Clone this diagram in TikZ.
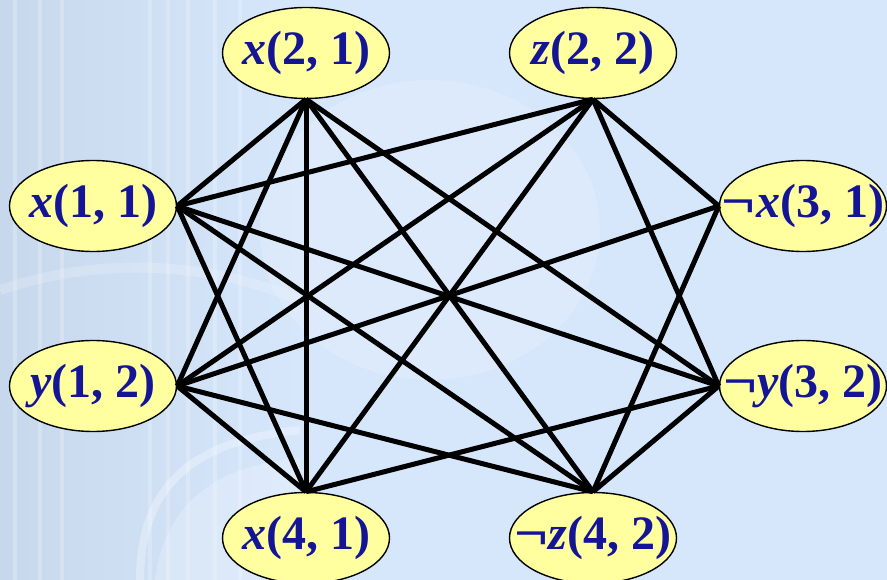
\documentclass[tikz,border=0pt]{standalone}
\usepackage{fontspec}
\setmainfont{Liberation Serif}
\usetikzlibrary{shapes.geometric}
\definecolor{bgblue}{RGB}{214,231,252}
\definecolor{colgrey}{RGB}{200,216,236}
\definecolor{lit}{RGB}{226,237,251}
\definecolor{litnode}{RGB}{255,255,160}
\definecolor{labelblue}{RGB}{20,20,150}
\tikzset{
  literal/.style={ellipse, draw=black, line width=1.4pt, fill=litnode,
    minimum width=167pt, minimum height=91pt, inner sep=0pt,
    font=\fontsize{48}{50}\selectfont\bfseries, text=labelblue},
  edge/.style={line width=5pt, black},
  fluting/.style={white, opacity=0.22, line width=4pt}
}
\newcommand{\var}[1]{\textit{#1}}
\newcommand{\lbl}[1]{\makebox[0pt]{#1}}
\newcommand{\neglit}{\scalebox{1.25}[1]{¬}}
\begin{document}
\begin{tikzpicture}[x=1pt,y=-1pt]
  % backdrop
  \fill[bgblue] (0,0) rectangle (887,580);
  \useasboundingbox (0,0) rectangle (887,580);
  \shade[left color=colgrey, right color=bgblue] (0,0) rectangle (300,580);
  \fill[lit, opacity=0.5] (430,230) ellipse (170 and 150);
  % faint classical column on the left
  \foreach \cx in {15,40,62,150,168,188,215,240}
    \draw[fluting] (\cx,0) -- (\cx,580);
  \draw[white, opacity=0.18, line width=10pt] (0,290) .. controls (120,250) and (230,270) .. (300,300);
  \draw[white, opacity=0.3, line width=8pt] (140,580) .. controls (140,480) and (200,440) .. (300,430);
  \fill[white, opacity=0.22] (155,580) .. controls (165,500) and (220,465) .. (300,458) -- (300,580) -- cycle;

  % literals of the four clauses
  \node[literal] (x11) at (93,206)  {\lbl{\var{x}(1, 1)}};
  \node[literal] (y12) at (93,386)  {\lbl{\var{y}(1, 2)}};
  \node[literal] (x21) at (306,53)  {\lbl{\var{x}(2, 1)}};
  \node[literal] (z22) at (593,53)  {\lbl{\var{z}(2, 2)}};
  \node[literal] (nx31) at (803,206) {\lbl{\neglit\var{x}(3, 1)}};
  \node[literal] (ny32) at (803,386) {\lbl{\neglit\var{y}(3, 2)}};
  \node[literal] (x41) at (306,538) {\lbl{\var{x}(4, 1)}};
  \node[literal] (nz42) at (593,538) {\lbl{\neglit\var{z}(4, 2)}};

  % compatible literals in different clauses
  \foreach \a/\b in {x11.east/x21.south, x11.east/z22.south, x11.east/ny32.west,
                     x11.east/x41.north, x11.east/nz42.north,
                     y12.east/x21.south, y12.east/z22.south, y12.east/nx31.west,
                     y12.east/x41.north, y12.east/nz42.north,
                     x21.south/ny32.west, x21.south/x41.north, x21.south/nz42.north,
                     z22.south/nx31.west, z22.south/ny32.west, z22.south/x41.north,
                     nx31.west/nz42.north,
                     ny32.west/x41.north, ny32.west/nz42.north}
    \draw[edge] (\a) -- (\b);
\end{tikzpicture}
\end{document}
